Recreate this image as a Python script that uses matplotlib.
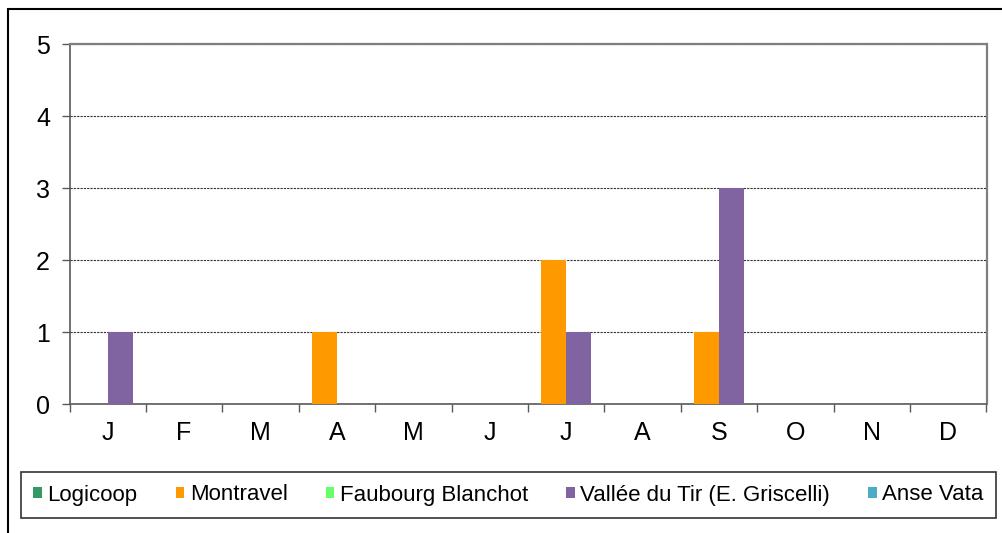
import matplotlib.pyplot as plt
import numpy as np
from matplotlib.patches import Patch, Rectangle

plt.rcParams["font.family"] = ["Liberation Sans", "DejaVu Sans"]

months = ["J", "F", "M", "A", "M", "J", "J", "A", "S", "O", "N", "D"]
series_names = [
    "Logicoop",
    "Montravel",
    "Faubourg Blanchot",
    "Vallée du Tir (E. Griscelli)",
    "Anse Vata",
]
logicoop = [0, 0, 0, 0, 0, 0, 0, 0, 0, 0, 0, 0]
montravel = [0, 0, 0, 1, 0, 0, 2, 0, 1, 0, 0, 0]
faubourg = [0, 0, 0, 0, 0, 0, 0, 0, 0, 0, 0, 0]
vallee = [1, 0, 0, 0, 0, 0, 1, 0, 3, 0, 0, 0]
anse_vata = [0, 0, 0, 0, 0, 0, 0, 0, 0, 0, 0, 0]
y_ticks = [0, 1, 2, 3, 4, 5]

colors = ["#339966", "#FF9900", "#66FF66", "#8064A2", "#4BACC6"]

W, H = 1002, 533
fig = plt.figure(figsize=(W / 100, H / 100), dpi=100)
ax = fig.add_axes([69.5 / W, 1 - 404 / H, 917 / W, 360 / H])

x = np.arange(len(months))
w = 0.33
offsets = [-w, -w, 0, 0, 0]
values = [logicoop, montravel, faubourg, vallee, anse_vata]
for vals, off, col, name in zip(values, offsets, colors, series_names):
    ax.bar(x + off, vals, width=w, align="edge", color=col, linewidth=0, label=name, zorder=3)

ax.set_xlim(-0.5, len(months) - 0.5)
ax.set_ylim(0, 5)
ax.set_yticks(y_ticks)
ax.set_xticks(x)
ax.set_xticklabels(months)
ax.set_xticks(np.arange(-0.5, len(months)), minor=True)
ax.tick_params(axis="x", which="major", length=0, pad=12, labelsize=18)
ax.tick_params(axis="x", which="minor", length=6, width=1, color="#595959", direction="out")
ax.tick_params(axis="y", length=6, width=1, color="#595959", pad=8, labelsize=18)

ax.yaxis.grid(True, linestyle=(0, (2, 1)), color="#333333", linewidth=0.8, zorder=0)
ax.set_axisbelow(True)

for side in ["left", "bottom"]:
    ax.spines[side].set_color("#595959")
    ax.spines[side].set_linewidth(1.2)
for side in ["top", "right"]:
    ax.spines[side].set_color("#7f7f7f")
    ax.spines[side].set_linewidth(1.6)

# outer chart frame
fig.add_artist(Rectangle((8 / W, -0.2), 1.2, 1.2 - 9 / H, transform=fig.transFigure,
                         fill=False, edgecolor="black", linewidth=1.5))

handles = [Patch(facecolor=c, edgecolor="none") for c in colors]
leg = fig.legend(
    handles,
    series_names,
    loc="center",
    bbox_to_anchor=(508.5 / W, 1 - 495 / H),
    ncol=5,
    fontsize=16,
    frameon=True,
    fancybox=False,
    handlelength=0.38,
    handleheight=0.38,
    handletextpad=0.25,
    columnspacing=1.72,
    borderpad=0.55,
    borderaxespad=0,
)
leg.get_frame().set_edgecolor("black")
leg.get_frame().set_linewidth(1.2)

fig.savefig("out.png", dpi=100)
